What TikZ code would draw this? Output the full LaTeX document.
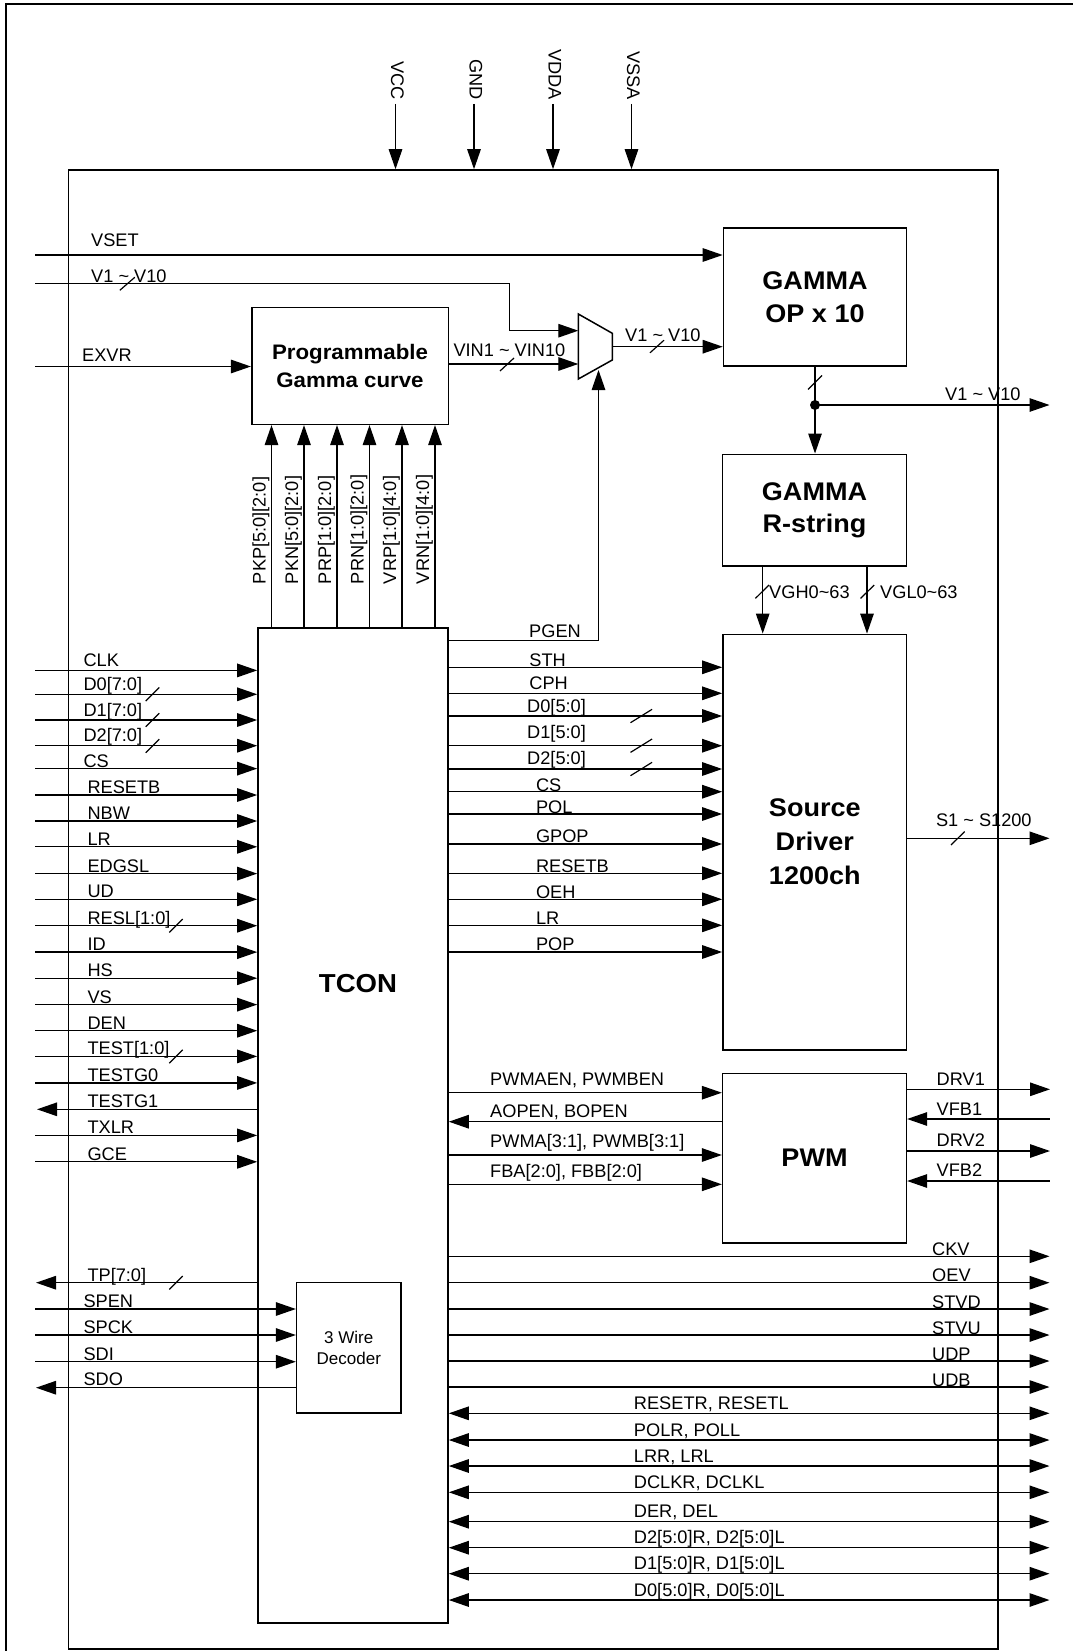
\documentclass[tikz,border=0pt]{standalone}
\usepackage{fontspec}
\setmainfont{Liberation Sans}
\newfontfamily\tfont[FakeStretch=1.06]{Liberation Sans}
\usetikzlibrary{arrows.meta,calc}
\newcommand{\busmk}[4]{\draw[bus] (#1-#3,#2+#4) -- (#1+#3,#2-#4);}
\begin{document}
\begin{tikzpicture}[x=1pt,y=-1pt,
  >={Triangle[length=20pt,width=13.5pt]},
  conn/.style={line width=1.3pt},
  arr/.style={conn,->}, rarr/.style={conn,<-}, barr/.style={conn,<->},
  bus/.style={line width=1.2pt},
  blk/.style={draw,line width=1.6pt,rectangle,inner sep=0pt,align=center},
  ttl/.style={font=\tfont\bfseries\fontsize{25.5}{32.7}\selectfont},
  lbl/.style={inner sep=0pt,anchor=base west,font=\fontsize{18.2}{21}\selectfont}]
\useasboundingbox (0,0) rectangle (1073,1651);
\fill[white] (0,0) rectangle (1073,1651);

% outer frame
\coordinate (oTR) at (1073,4); \coordinate (oTL) at (6,4); \coordinate (oBL) at (6,1651);
\draw[line width=2pt] (oTR) -- (oTL) -- (oBL);

% chip outline
\node[blk,minimum width=929.6pt,minimum height=1479pt] (chip) at (533.2,909.5) {};

% blocks
\node[blk,minimum width=196.6pt,minimum height=117pt,font=\tfont\bfseries\fontsize{21}{27.7}\selectfont] (gam) at (350,365.8) {Programmable\\Gamma curve};
\node[blk,ttl,minimum width=183pt,minimum height=138pt] (opx) at (815,297) {GAMMA\\OP x 10};
\node[blk,ttl,font=\tfont\bfseries\fontsize{25.5}{32.3}\selectfont,minimum width=183.7pt,minimum height=111.4pt] (rstr) at (814.5,510) {GAMMA\\R-string};
\node[blk,ttl,font=\tfont\bfseries\fontsize{25.5}{34}\selectfont,minimum width=183.7pt,minimum height=415.7pt] (src) at (814.8,842.2) {Source\\Driver\\1200ch};
\node[blk,ttl,minimum width=183.7pt,minimum height=169.4pt] (pwm) at (814.5,1158) {PWM};
\node[blk,minimum width=190pt,minimum height=995pt] (tcon) at (353,1125.2) {};
\node[font=\tfont\bfseries\fontsize{26}{30}\selectfont,inner sep=0pt,anchor=base] (tcontxt) at (358,992) {TCON};
\node[blk,fill=white,minimum width=104.3pt,minimum height=130.3pt,font=\fontsize{17}{21.7}\selectfont] (dec) at (348.8,1347.8) {3 Wire\\Decoder};

% mux
\coordinate (mA) at (578.3,314); \coordinate (mB) at (612.3,333.3);
\coordinate (mC) at (612.3,360); \coordinate (mD) at (578.3,379);
\draw[line width=1.5pt,line join=miter] (mA) -- (mB) -- (mC) -- (mD) -- cycle;
\coordinate (mux1) at (578.3,330.7);
\coordinate (mux2) at (578.3,364);
\coordinate (muxo) at (612.3,346.7);
\coordinate (muxs) at (598.5,370);

% power pins
\foreach \nm/\x [count=\i] in {VCC/395.5,GND/474,VDDA/553,VSSA/631.5}{
  \node[lbl,rotate=-90,anchor=base east] (pw\i) at (\x-4.5,100) {\nm};
  \coordinate (pt\i) at (\x,104);
  \draw[arr] (pt\i) -- (pt\i |- chip.north);
}

% top-left inputs
\coordinate (vsetL) at (35,255);
\draw[arr] (vsetL) -- (vsetL -| opx.west);
\node[lbl] (vsetT) at (91,246.7) {VSET};
\coordinate (v1L) at (35,283.3); \coordinate (v1bend) at (509.3,283.3);
\draw[arr] (v1L) -- (v1bend) |- (mux1);
\node[lbl] (v1T) at (91,282) {V1 \textasciitilde{} V10};
\busmk{127.3}{283.8}{7.5}{6.5}
\coordinate (exvrL) at (35,366.5);
\draw[arr] (exvrL) -- (exvrL -| gam.west);
\node[lbl] (exvrT) at (82,361.7) {EXVR};

% gamma path
\draw[arr] (gam.east |- mux2) -- (mux2);
\node[lbl] (vinT) at (453.3,356.7) {VIN1 \textasciitilde{} VIN10};
\busmk{507}{364.5}{7}{6.5}
\draw[arr] (muxo) -- (muxo -| opx.west);
\node[lbl] (v1mT) at (625,341.7) {V1 \textasciitilde{} V10};
\busmk{657}{346.5}{7}{6.3}
\coordinate (jdot) at (815,405);
\draw[conn] (opx.south) -- (jdot);
\draw[arr] (jdot) -- (jdot |- rstr.north);
\fill (jdot) circle (5pt);
\busmk{815}{382.5}{7}{7}
\coordinate (v1R) at (1049.5,405);
\draw[arr] (jdot) -- (v1R);
\node[lbl] (v1RT) at (945,400) {V1 \textasciitilde{} V10};
\coordinate (vghA) at ([xshift=-51.8pt]rstr.south);
\coordinate (vglA) at ([xshift=52.5pt]rstr.south);
\draw[arr] (vghA) -- (vghA |- src.north);
\draw[arr] (vglA) -- (vglA |- src.north);
\busmk{762.2}{591.7}{6.8}{6.7}
\busmk{867.4}{591.7}{6.8}{6.7}
\node[lbl] (vghT) at (769,598.3) {VGH0\textasciitilde 63};
\node[lbl] (vglT) at (880,598.3) {VGL0\textasciitilde 63};

% gamma control buses
\foreach \nm/\x [count=\i] in {PKP[5:0][2:0]/271.5,PKN[5:0][2:0]/304,PRP[1:0][2:0]/337,PRN[1:0][2:0]/369.5,VRP[1:0][4:0]/402,VRN[1:0][4:0]/435}{
  \coordinate (gc\i) at (\x,500);
  \draw[arr] (gc\i |- tcon.north) -- (gc\i |- gam.south);
  \node[lbl,rotate=90] (gl\i) at (\x-6,584.3) {\nm};
}

% PGEN
\coordinate (pgenB) at (598.5,640.7);
\draw[arr] (pgenB -| tcon.east) -- (pgenB) -- (muxs);
\node[lbl] (pgenT) at (529,637.3) {PGEN};

% left inputs to TCON
\foreach \nm/\y/\lx/\d [count=\i] in {CLK/670.4/83.3/4,D0[7:0]/694.3/83.3/4,D1[7:0]/720/83.3/3.8,D2[7:0]/745.7/83.3/3.8,CS/768.6/83.3/1.5,RESETB/795/87.3/1.5,NBW/821/87.3/1.5,LR/846.8/87.3/1.5,EDGSL/873.6/87.3/1.5,UD/899.3/87.3/1.5,RESL[1:0]/925.7/87.3/1.5,ID/952.1/87.3/1.5,HS/978.2/87.3/1.5,VS/1004.6/87.3/1.5,DEN/1030.7/87.3/1.5,TEST[1:0]/1056.4/87.3/1.5,TESTG0/1082.9/87.3/1.5,TXLR/1135.4/87.3/1.5,GCE/1161.8/87.3/1.5}{
  \coordinate (li\i) at (35,\y);
  \draw[arr] (li\i) -- (li\i -| tcon.west);
  \node[lbl] (lt\i) at (\lx,\y-\d) {\nm};
}
\busmk{152.5}{694.3}{6.8}{6.8}
\busmk{152.5}{720}{6.8}{6.8}
\busmk{152.5}{745.9}{6.8}{6.8}
\busmk{176}{925.7}{6.7}{6.7}
\busmk{176}{1056.4}{6.7}{6.7}
\coordinate (tg1L) at (37,1109.3);
\draw[arr] (tg1L -| tcon.west) -- (tg1L);
\node[lbl] (tg1T) at (87.3,1107.8) {TESTG1};

% lower left
\coordinate (tpL) at (36,1282.7);
\draw[arr] (tpL -| tcon.west) -- (tpL);
\node[lbl] (tpT) at (87.3,1281.2) {TP[7:0]};
\busmk{176}{1282.7}{6.7}{6.7}
\foreach \nm/\y [count=\i] in {SPEN/1309,SPCK/1335,SDI/1361.7}{
  \coordinate (di\i) at (35,\y);
  \draw[arr] (di\i) -- (di\i -| dec.west);
  \node[lbl] (dt\i) at (83.3,\y-1.5) {\nm};
}
\coordinate (sdoL) at (36,1387.7);
\draw[arr] (sdoL -| dec.west) -- (sdoL);
\node[lbl] (sdoT) at (83.3,1385) {SDO};

% TCON -> Source driver
\foreach \nm/\y/\lx/\d [count=\i] in {STH/667.3/529.2/0.6,CPH/693.3/529.2/4.3,D0[5:0]/716/527/3.7,D1[5:0]/745.7/527/7.4,D2[5:0]/769/527/4.7,CS/791.7/535.8/0.7,POL/814/535.8/0.7,GPOP/844/535.8/1.3,RESETB/873.3/535.8/1,OEH/899.3/535.8/1,LR/925.3/535.8/1,POP/952/535.8/2}{
  \coordinate (si\i) at (600,\y);
  \draw[arr] (si\i -| tcon.east) -- (si\i -| src.west);
  \node[lbl] (st\i) at (\lx,\y-\d) {\nm};
}
\busmk{641.3}{716}{10.8}{6.7}
\busmk{641.3}{745.7}{10.8}{6.7}
\busmk{641.3}{769}{10.8}{6.7}

% Source driver output
\coordinate (s1R) at (1049.5,838.3);
\draw[arr] (s1R -| src.east) -- (s1R);
\node[lbl] (s1T) at (935.8,826.7) {S1 \textasciitilde{} S1200};
\busmk{957.8}{838.3}{6.8}{6.7}

% TCON <-> PWM
\foreach \nm/\y/\d/\st [count=\i] in {{PWMAEN, PWMBEN}/1092.7/7.7/arr,{AOPEN, BOPEN}/1121.7/4/rarr,{PWMA[3:1], PWMB[3:1]}/1155/7.3/arr,{FBA[2:0], FBB[2:0]}/1184.3/6.6/arr}{
  \coordinate (pi\i) at (600,\y);
  \draw[\st] (pi\i -| tcon.east) -- (pi\i -| pwm.west);
  \node[lbl] (pt\i) at (490,\y-\d) {\nm};
}
% PWM right side
\foreach \nm/\y/\d/\st [count=\i] in {DRV1/1089.3/4.3/arr,VFB1/1119/4/rarr,DRV2/1151/4.3/arr,VFB2/1181/4.3/rarr}{
  \coordinate (qi\i) at (1050,\y);
  \draw[\st] (qi\i -| pwm.east) -- (qi\i);
  \node[lbl] (qt\i) at (936.5,\y-\d) {\nm};
}

% TCON right outputs
\foreach \nm/\y [count=\i] in {CKV/1256.3,OEV/1282.7,STVD/1309,STVU/1335,UDP/1361,UDB/1387}{
  \coordinate (ro\i) at (1049.5,\y);
  \draw[arr] (ro\i -| tcon.east) -- (ro\i);
  \node[lbl] (rt\i) at (932,\y-1) {\nm};
}

% bidirectional
\foreach \nm/\y [count=\i] in {{RESETR, RESETL}/1413.3,{POLR, POLL}/1440,{LRR, LRL}/1466,{DCLKR, DCLKL}/1492.3,{DER, DEL}/1521.7,{D2[5:0]R, D2[5:0]L}/1547.7,{D1[5:0]R, D1[5:0]L}/1573.7,{D0[5:0]R, D0[5:0]L}/1600}{
  \coordinate (bi\i) at (1049.5,\y);
  \draw[barr] (bi\i -| tcon.east) -- (bi\i);
  \node[lbl] (bt\i) at (633.75,\y-4) {\nm};
}
\end{tikzpicture}
\end{document}
